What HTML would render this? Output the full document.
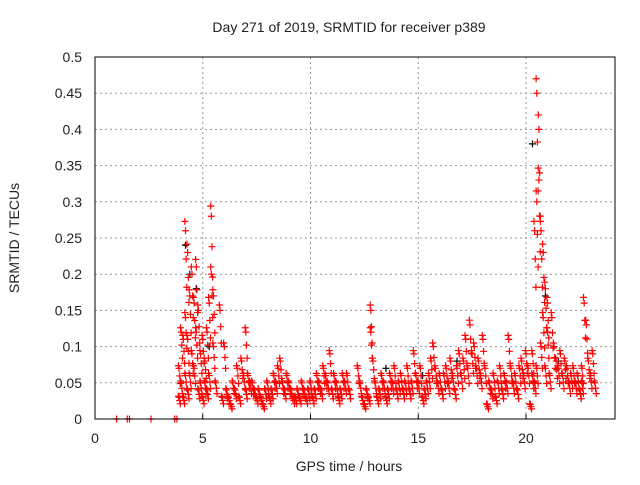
<!DOCTYPE html>
<html><head><meta charset="utf-8"><style>
body{margin:0;background:#fff}
svg text{font-family:"Liberation Sans",sans-serif;font-size:14px;fill:#222}
</style></head><body>
<svg id="chart" width="640" height="480" xmlns="http://www.w3.org/2000/svg">
<rect width="640" height="480" fill="#fff"/>
<g id="grid"></g>
<g id="pts"></g>
<rect x="95" y="57" width="520" height="362" fill="none" stroke="#000"/>
<g id="ticks"></g>
<text x="349" y="32" text-anchor="middle">Day 271 of 2019, SRMTID for receiver p389</text>
<text x="349" y="471" text-anchor="middle">GPS time / hours</text>
<text transform="translate(19,238) rotate(-90)" text-anchor="middle">SRMTID / TECUs</text>
</svg>
<script>
const xTicks=[0,5,10,15,20];
const yTicks=[0,0.05,0.1,0.15,0.2,0.25,0.3,0.35,0.4,0.45,0.5];
const yTickLabels=["0","0.05","0.1","0.15","0.2","0.25","0.3","0.35","0.4","0.45","0.5"];
const redT=[1,1.5,1.6,2.6,3.7,3.8,3.9,3.9,4.0,4.0,4.1,4.1,4.2,4.2,4.2,4.3,4.3,4.3,4.4,4.4,4.5,4.5,4.6,4.6,4.7,4.7,4.8,4.8,4.9,4.9,5.0,5.0,5.1,5.1,5.2,5.2,5.3,5.3,5.4,5.4,5.5,5.5,5.6,5.8,5.9,6.0,6.1,6.2,6.3,6.4,6.5,6.6,6.7,6.8,6.9,7.0,7.0,7.1,7.2,7.3,7.4,7.5,7.6,7.7,7.8,7.9,8.0,8.1,8.2,8.3,8.4,8.5,8.6,8.7,8.8,8.9,9.0,9.1,9.2,9.3,9.4,9.5,9.6,9.7,9.8,9.9,10.0,10.1,10.2,10.3,10.4,10.5,10.6,10.7,10.8,10.9,11.0,11.1,11.2,11.3,11.4,11.5,11.6,11.7,11.8,12.2,12.3,12.4,12.5,12.6,12.7,12.8,12.8,12.9,13.0,13.1,13.2,13.3,13.4,13.5,13.6,13.7,13.8,13.9,14.0,14.1,14.2,14.3,14.4,14.5,14.6,14.7,14.8,14.9,15.0,15.1,15.2,15.3,15.4,15.5,15.6,15.7,15.8,15.9,16.0,16.1,16.2,16.3,16.4,16.5,16.6,16.7,16.8,16.9,17.0,17.1,17.2,17.3,17.4,17.5,17.6,17.7,17.8,17.9,18.0,18.1,18.2,18.3,18.4,18.5,18.6,18.7,18.8,18.9,19.0,19.1,19.2,19.3,19.4,19.5,19.6,19.7,19.8,19.9,20.0,20.1,20.2,20.3,20.3,20.4,20.4,20.5,20.5,20.5,20.6,20.6,20.7,20.7,20.8,20.8,20.9,20.9,21.0,21.0,21.1,21.2,21.3,21.4,21.5,21.6,21.7,21.8,21.9,22.0,22.1,22.2,22.3,22.4,22.5,22.6,22.6,22.7,22.8,22.9,23.0,23.1,23.2];
const redV=[0,0,0,0,0,0,0.03,0.07,0.05,0.12,0.03,0.11,0.26,0.14,0.06,0.23,0.11,0.04,0.06,0.17,0.2,0.09,0.07,0.16,0.21,0.12,0.04,0.15,0.09,0.05,0.03,0.11,0.08,0.05,0.12,0.04,0.16,0.06,0.28,0.2,0.1,0.17,0.05,0.15,0.03,0.1,0.04,0.03,0.02,0.05,0.04,0.07,0.03,0.08,0.06,0.12,0.04,0.06,0.05,0.05,0.04,0.03,0.04,0.03,0.02,0.04,0.05,0.03,0.04,0.06,0.05,0.07,0.08,0.05,0.04,0.06,0.05,0.04,0.03,0.03,0.04,0.03,0.05,0.04,0.03,0.04,0.05,0.03,0.04,0.06,0.05,0.04,0.07,0.06,0.05,0.09,0.04,0.06,0.05,0.03,0.04,0.06,0.05,0.06,0.04,0.07,0.05,0.03,0.02,0.04,0.03,0.12,0.15,0.08,0.05,0.03,0.04,0.06,0.05,0.03,0.04,0.06,0.05,0.07,0.04,0.05,0.06,0.04,0.05,0.07,0.04,0.05,0.09,0.06,0.05,0.07,0.03,0.04,0.05,0.06,0.08,0.1,0.07,0.05,0.06,0.04,0.06,0.07,0.05,0.08,0.06,0.04,0.07,0.09,0.06,0.08,0.11,0.07,0.13,0.09,0.1,0.07,0.08,0.06,0.11,0.07,0.02,0.05,0.04,0.06,0.03,0.05,0.07,0.04,0.06,0.05,0.11,0.07,0.05,0.06,0.04,0.07,0.08,0.06,0.09,0.07,0.02,0.06,0.09,0.05,0.26,0.07,0.45,0.3,0.33,0.4,0.1,0.26,0.14,0.23,0.07,0.18,0.12,0.16,0.06,0.14,0.1,0.08,0.07,0.09,0.06,0.08,0.07,0.05,0.06,0.07,0.05,0.06,0.04,0.07,0.05,0.16,0.13,0.08,0.06,0.09,0.05,0.07,0.1];
const blackT=[4.2,4.4,4.7,5.3,13.5,15.2,16.8,20.3,20.9,21.5,22.4];
const blackV=[0.24,0.2,0.18,0.1,0.07,0.06,0.08,0.38,0.17,0.08,0.06];
const X=t=>95+t*21.55, Y=v=>419-v*724;
const NS="http://www.w3.org/2000/svg";
const grid=document.getElementById('grid'),ticks=document.getElementById('ticks'),pts=document.getElementById('pts');
function mk(tag,attrs,parent){const e=document.createElementNS(NS,tag);for(const k in attrs)e.setAttribute(k,attrs[k]);parent.appendChild(e);return e;}
xTicks.forEach(t=>{const x=X(t);
 if(t>0){const l=mk('line',{x1:x,x2:x,y1:57,y2:419,stroke:'#999','stroke-dasharray':'2,3'},grid);
 
 }
 const tx=mk('text',{x:x,y:443,'text-anchor':'middle'},ticks);tx.textContent=String(t);
 
 
 mk('line',{x1:x,x2:x,y1:419,y2:414,stroke:'#000'},ticks);});
yTicks.forEach((v,i)=>{const y=Y(v);
 if(v>0&&v<0.5){const l=mk('line',{x1:95,x2:615,y1:y,y2:y,stroke:'#999','stroke-dasharray':'2,3'},grid);
 
 }
 const tx=mk('text',{x:82,y:y+5,'text-anchor':'end'},ticks);tx.textContent=yTickLabels[i];
 
 });
function plus(t,v,c,name){const x=X(t),y=Y(v);
 const p=mk('path',{d:`M${x-3.5} ${y}H${x+3.5}M${x} ${y-3.5}V${y+3.5}`,stroke:c,'stroke-width':1.2},pts);
 
 }
blackT.forEach((t,i)=>plus(t,blackV[i],'#000','black-point'));
redT.forEach((t,i)=>{plus(t,redV[i],'#f00','red-point');
 if(redV[i]>0){plus(t+0.03,redV[i]*0.85,'#f00','red-point');plus(t+0.06,redV[i]*0.7,'#f00','red-point');plus(t-0.03,Math.min(redV[i]*1.05,0.47),'#f00','red-point');}});
</script>
</body></html>
